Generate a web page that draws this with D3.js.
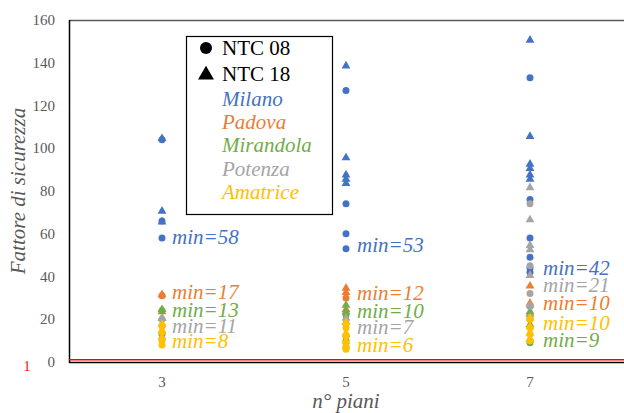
<!DOCTYPE html>
<html><head><meta charset="utf-8">
<script src="https://cdn.jsdelivr.net/npm/d3@7"></script>
<style>body{margin:0;background:#fff}svg{display:block}</style>
</head><body>
<svg id="c" width="624" height="413"></svg>
<script>
const piani = [3, 5, 7];
const yTicks = [0, 20, 40, 60, 80, 100, 120, 140, 160];
const cities = ["Milano", "Padova", "Mirandola", "Potenza", "Amatrice"];
const colors = ["#4472C4", "#ED7D31", "#70AD47", "#A5A5A5", "#FFC000"];
// values per city, per n° piani (3,5,7)
const milano08 = [[104, 66, 58], [127, 74, 60, 53], [133, 76, 58, 49, 44, 42]];
const milano18 = [[105, 71, 66], [139, 96, 88, 86, 84], [151, 106, 93, 91, 88, 86]];
const padova08 = [[31, 17], [30, 12], [22, 10]];
const padova18 = [[32, 24], [35, 33, 25], [36, 28, 23]];
const mirandola08 = [[24, 13], [22, 10], [20, 9]];
const mirandola18 = [[25, 21], [27, 24], [24, 18]];
const potenza08 = [[20, 11], [18, 7], [74, 45, 32, 26, 21]];
const potenza18 = [[21, 15], [21, 19], [82, 67, 55, 53, 41, 27]];
const amatrice08 = [[17, 14, 10, 8], [16, 12, 9, 6], [20, 16, 13, 10]];
const amatrice18 = [[18, 15, 12], [19, 14, 10, 8], [21, 17, 14, 11]];
const minLabels = [[58, 53, 42], [17, 12, 10], [13, 10, 9], [11, 7, 21], [8, 6, 10]];
const ntc08 = [milano08, padova08, mirandola08, potenza08, amatrice08];
const ntc18 = [milano18, padova18, mirandola18, potenza18, amatrice18];

const svg = d3.select("#c");
const x = d3.scaleLinear().domain([2, 8]).range([70, 622]);
const y = d3.scaleLinear().domain([0, 160]).range([362, 20]);
const FONT = '"Liberation Serif"';
function txt(sel) { return sel.style("font-family", FONT); }

// frame
svg.append("line").attr("x1", 69).attr("x2", 624).attr("y1", 20.5).attr("y2", 20.5).attr("stroke", "#595959").attr("stroke-width", 1.5);
svg.append("line").attr("x1", 69.5).attr("x2", 69.5).attr("y1", 20).attr("y2", 363).attr("stroke", "#000").attr("stroke-width", 1.5);
svg.append("line").attr("x1", 69).attr("x2", 624).attr("y1", y(0) + 0.5).attr("y2", y(0) + 0.5).attr("stroke", "#000").attr("stroke-width", 1.5);
svg.append("line").attr("x1", 69).attr("x2", 624).attr("y1", y(1)).attr("y2", y(1)).attr("stroke", "#FF0000").attr("stroke-width", 1.5);

// y ticks
txt(svg.append("g").selectAll("text").data(yTicks).join("text"))
  .attr("x", 55).attr("y", d => y(d) + 5).attr("text-anchor", "end")
  .style("font-size", "15px").attr("fill", "#595959").text(d => d);
txt(svg.append("text")).attr("x", 27).attr("y", 371).attr("text-anchor", "middle")
  .style("font-size", "14px").attr("fill", "#FF0000").text("1");
// x ticks
txt(svg.append("g").selectAll("text").data(piani).join("text"))
  .attr("x", d => x(d)).attr("y", 387).attr("text-anchor", "middle")
  .style("font-size", "15px").attr("fill", "#595959").text(d => d);
// titles
txt(svg.append("text")).attr("x", x(5)).attr("y", 408).attr("text-anchor", "middle")
  .style("font-style", "italic").style("font-size", "21px").attr("fill", "#595959").text("n° piani");
txt(svg.append("text")).attr("transform", "translate(25," + y(80) + ") rotate(-90)").attr("text-anchor", "middle")
  .style("font-style", "italic").style("font-size", "21px").attr("fill", "#595959").text("Fattore di sicurezza");

const tri = d3.symbol().type(d3.symbolTriangle).size(34);
const pts = svg.append("g");
cities.forEach((c, ci) => {
  piani.forEach((p, pi) => {
    ntc08[ci][pi].forEach(v => {
      pts.append("circle").attr("cx", x(p)).attr("cy", y(v)).attr("r", 3.5).attr("fill", colors[ci]);
    });
    ntc18[ci][pi].forEach(v => {
      pts.append("path").attr("d", tri).attr("transform", `translate(${x(p)},${y(v) + 1})`).attr("fill", colors[ci]);
    });
  });
});

// min labels (vertical slot order per column)
const labelOrder = [[0, 1, 2, 3, 4], [0, 1, 2, 3, 4], [0, 3, 1, 4, 2]];
const labelY = [[238, 293, 311, 327, 342], [246, 294, 312, 328, 346], [269, 286, 304, 324, 341]];
const labelX = [172, 357, 543];
piani.forEach((p, pi) => {
  labelOrder[pi].forEach((ci, k) => {
    txt(svg.append("text")).attr("x", labelX[pi]).attr("y", labelY[pi][k] + 6)
      .style("font-style", "italic").style("font-size", "21px")
      .attr("fill", colors[ci]).text("min=" + minLabels[ci][pi]);
  });
});

// legend
const lg = svg.append("g");
lg.append("rect").attr("x", 186.5).attr("y", 36.5).attr("width", 146).attr("height", 178)
  .attr("fill", "#fff").attr("stroke", "#000").attr("stroke-width", 1.2);
lg.append("circle").attr("cx", 206).attr("cy", 48).attr("r", 6).attr("fill", "#000");
lg.append("path").attr("d", d3.symbol().type(d3.symbolTriangle).size(110)).attr("transform", "translate(206,75)").attr("fill", "#000");
txt(lg.append("text")).attr("x", 222).attr("y", 55).style("font-size", "21px").attr("fill", "#000").text("NTC 08");
txt(lg.append("text")).attr("x", 222).attr("y", 81).style("font-size", "21px").attr("fill", "#000").text("NTC 18");
txt(lg.selectAll("text.city").data(cities).join("text")).attr("class", "city")
  .attr("x", 222).attr("y", (d, i) => 106 + i * 23.2)
  .style("font-style", "italic").style("font-size", "21px")
  .attr("fill", (d, i) => colors[i]).text(d => d);
</script>
</body></html>
